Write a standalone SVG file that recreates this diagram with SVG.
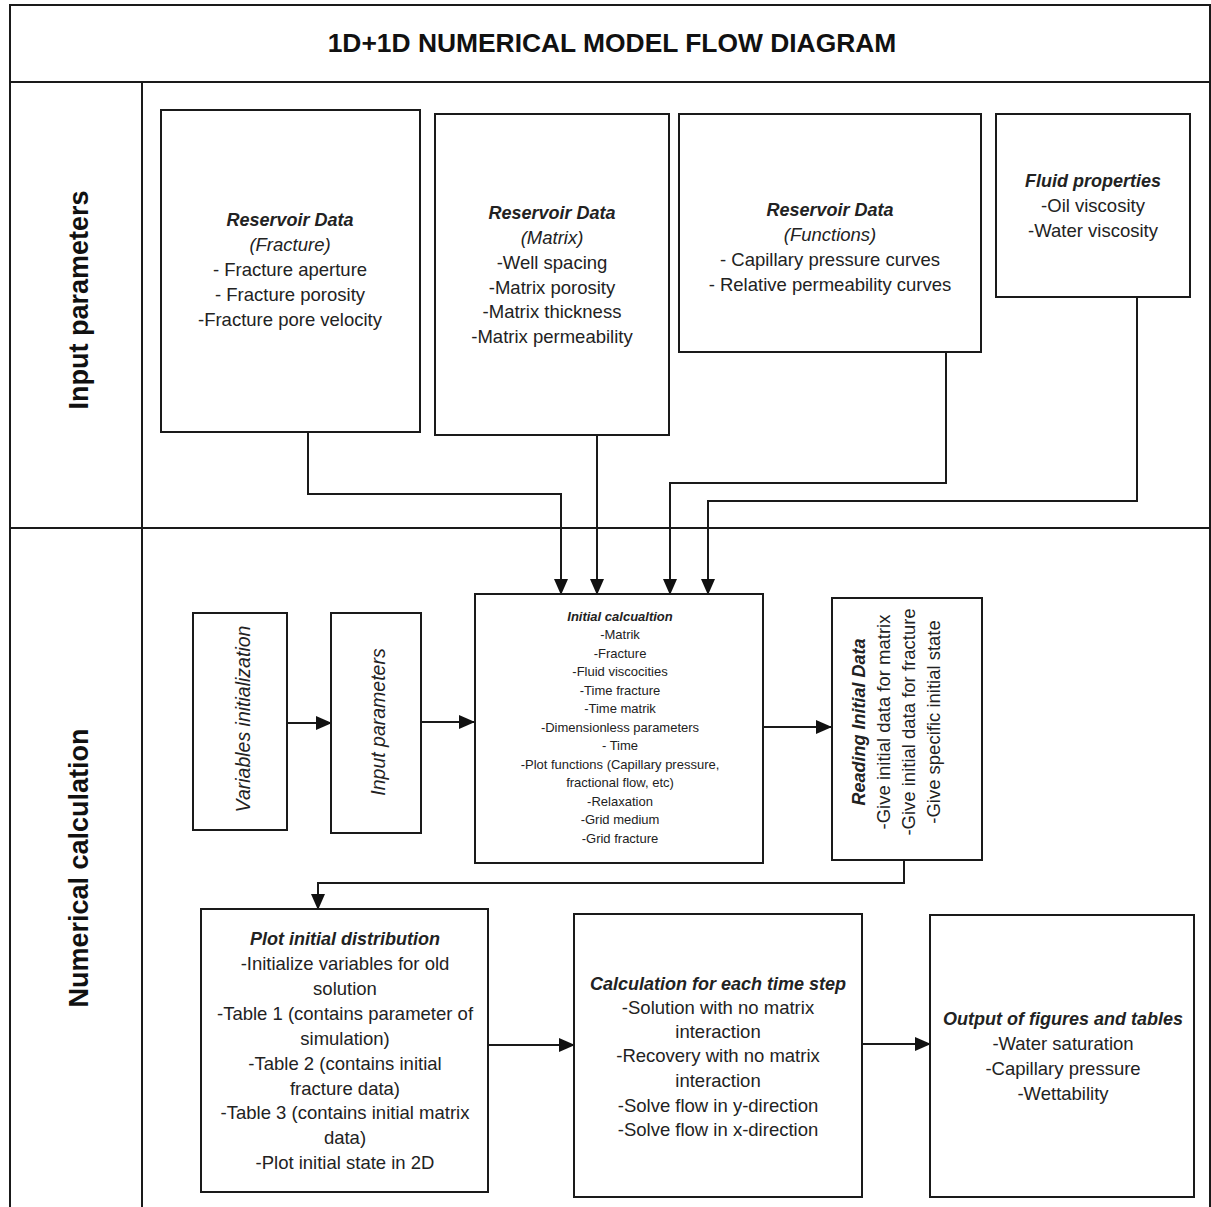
<svg xmlns="http://www.w3.org/2000/svg" width="1211" height="1207" viewBox="0 0 1211 1207">
<style>
.frame{fill:none;stroke:#1a1a1a;stroke-width:2}
.box{fill:#fff;stroke:#1a1a1a;stroke-width:2}
.conn{fill:none;stroke:#1a1a1a;stroke-width:2}
.t{font-family:"Liberation Sans",Arial,sans-serif;font-size:18.5px;fill:#222;text-anchor:middle}
.h{font-weight:bold;font-style:italic;font-size:18px}
.i{font-style:italic}
.v{font-size:19.5px}
.s{font-size:13px}
.lab{font-family:"Liberation Sans",Arial,sans-serif;font-weight:bold;font-size:27px;fill:#111;text-anchor:middle}
.title{font-size:26.4px}
</style>
<defs>
<marker id="arr" markerUnits="userSpaceOnUse" markerWidth="16" markerHeight="14" refX="15" refY="7" orient="auto">
<path d="M0,0 L16,7 L0,14 z" fill="#111"/>
</marker>
</defs>
<rect x="0" y="0" width="1211" height="1207" fill="#fff"/>
<g id="frame">
<path class="frame" d="M10,1207 V5 H1210 V1207"/>
<path class="frame" d="M10,82 H1210 M142,82 V1207 M10,528 H1210"/>
<text class="lab title" x="612" y="52">1D+1D NUMERICAL MODEL FLOW DIAGRAM</text>
<text class="lab" transform="translate(88,300) rotate(-90)">Input parameters</text>
<text class="lab" transform="translate(88,868) rotate(-90)">Numerical calculation</text>
</g>
<g id="connectors">
<path class="conn" marker-end="url(#arr)" d="M308,432 V494 H561 V594"/>
<path class="conn" marker-end="url(#arr)" d="M597,435 V594"/>
<path class="conn" marker-end="url(#arr)" d="M946,352 V483 H670 V594"/>
<path class="conn" marker-end="url(#arr)" d="M1137,297 V501 H708 V594"/>
<path class="conn" marker-end="url(#arr)" d="M287,723 H331"/>
<path class="conn" marker-end="url(#arr)" d="M421,722 H474"/>
<path class="conn" marker-end="url(#arr)" d="M763,727 H831"/>
<path class="conn" marker-end="url(#arr)" d="M904,860 V883 H318 V909"/>
<path class="conn" marker-end="url(#arr)" d="M488,1045 H574"/>
<path class="conn" marker-end="url(#arr)" d="M862,1044 H930"/>
</g>
<g id="res-fracture">
<rect class="box" x="161" y="110" width="259" height="322"/>
<text class="t h" x="290" y="226">Reservoir Data</text>
<text class="t i" x="290" y="251">(Fracture)</text>
<text class="t" x="290" y="276">- Fracture aperture</text>
<text class="t" x="290" y="301">- Fracture porosity</text>
<text class="t" x="290" y="326">-Fracture pore velocity</text>
</g>
<g id="res-matrix">
<rect class="box" x="435" y="114" width="234" height="321"/>
<text class="t h" x="552" y="219">Reservoir Data</text>
<text class="t i" x="552" y="244">(Matrix)</text>
<text class="t" x="552" y="269">-Well spacing</text>
<text class="t" x="552" y="294">-Matrix porosity</text>
<text class="t" x="552" y="318">-Matrix thickness</text>
<text class="t" x="552" y="343">-Matrix permeability</text>
</g>
<g id="res-functions">
<rect class="box" x="679" y="114" width="302" height="238"/>
<text class="t h" x="830" y="216">Reservoir Data</text>
<text class="t i" x="830" y="241">(Functions)</text>
<text class="t" x="830" y="266">- Capillary pressure curves</text>
<text class="t" x="830" y="291">- Relative permeability curves</text>
</g>
<g id="fluid">
<rect class="box" x="996" y="114" width="194" height="183"/>
<text class="t h" x="1093" y="187">Fluid properties</text>
<text class="t" x="1093" y="212">-Oil viscosity</text>
<text class="t" x="1093" y="237">-Water viscosity</text>
</g>
<g id="var-init">
<rect class="box" x="193" y="613" width="94" height="217"/>
<text class="t i v" transform="translate(249.5,719) rotate(-90)">Variables initialization</text>
</g>
<g id="input-params">
<rect class="box" x="331" y="613" width="90" height="220"/>
<text class="t i v" transform="translate(384.5,722) rotate(-90)">Input parameters</text>
</g>
<g id="initial-calc">
<rect class="box" x="475" y="594" width="288" height="269"/>
<text class="t s" x="620" y="620.5" font-weight="bold" font-style="italic">Initial calcualtion</text>
<text class="t s" x="620" y="639">-Matrik</text>
<text class="t s" x="620" y="657.5">-Fracture</text>
<text class="t s" x="620" y="676">-Fluid viscocities</text>
<text class="t s" x="620" y="694.5">-Time fracture</text>
<text class="t s" x="620" y="713">-Time matrik</text>
<text class="t s" x="620" y="731.5">-Dimensionless parameters</text>
<text class="t s" x="620" y="750">- Time</text>
<text class="t s" x="620" y="768.5">-Plot functions (Capillary pressure,</text>
<text class="t s" x="620" y="787">fractional flow, etc)</text>
<text class="t s" x="620" y="805.5">-Relaxation</text>
<text class="t s" x="620" y="824">-Grid medium</text>
<text class="t s" x="620" y="842.5">-Grid fracture</text>
</g>
<g id="reading">
<rect class="box" x="832" y="598" width="150" height="262"/>
<text class="t h" transform="translate(864.5,722) rotate(-90)">Reading Initial Data</text>
<text class="t" transform="translate(889.5,722) rotate(-90)">-Give initial data for matrix</text>
<text class="t" transform="translate(914.5,722) rotate(-90)">-Give initial data for fracture</text>
<text class="t" transform="translate(939.5,722) rotate(-90)">-Give specific initial state</text>
</g>
<g id="plot-initial">
<rect class="box" x="201" y="909" width="287" height="283"/>
<text class="t h" x="345" y="945">Plot initial distribution</text>
<text class="t" x="345" y="970">-Initialize  variables for old</text>
<text class="t" x="345" y="995">solution</text>
<text class="t" x="345" y="1020">-Table 1 (contains parameter of</text>
<text class="t" x="345" y="1044.5">simulation)</text>
<text class="t" x="345" y="1069.5">-Table 2 (contains initial</text>
<text class="t" x="345" y="1094.5">fracture data)</text>
<text class="t" x="345" y="1119">-Table 3 (contains initial matrix</text>
<text class="t" x="345" y="1143.5">data)</text>
<text class="t" x="345" y="1168.5">-Plot initial state in 2D</text>
</g>
<g id="calc-step">
<rect class="box" x="574" y="914" width="288" height="283"/>
<text class="t h" x="718" y="989.5">Calculation for each time step</text>
<text class="t" x="718" y="1013.5">-Solution with no matrix</text>
<text class="t" x="718" y="1038">interaction</text>
<text class="t" x="718" y="1062">-Recovery with no matrix</text>
<text class="t" x="718" y="1086.5">interaction</text>
<text class="t" x="718" y="1111.5">-Solve flow in y-direction</text>
<text class="t" x="718" y="1135.5">-Solve flow in x-direction</text>
</g>
<g id="output">
<rect class="box" x="930" y="915" width="264" height="282"/>
<text class="t h" x="1063" y="1024.5">Output of figures and tables</text>
<text class="t" x="1063" y="1049.5">-Water saturation</text>
<text class="t" x="1063" y="1074.5">-Capillary pressure</text>
<text class="t" x="1063" y="1099.5">-Wettability</text>
</g>
</svg>
